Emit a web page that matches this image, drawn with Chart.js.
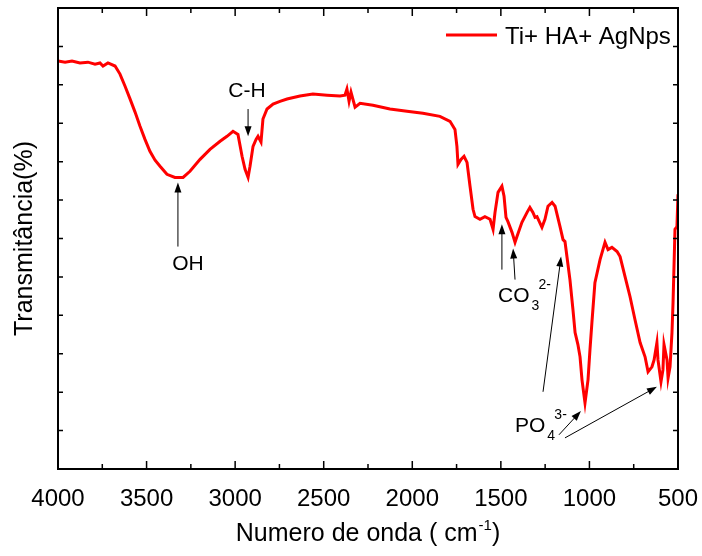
<!DOCTYPE html>
<html>
<head>
<meta charset="utf-8">
<script src="https://cdn.jsdelivr.net/npm/chart.js@4.4.0/dist/chart.umd.min.js"></script>
<style>
    html, body { margin: 0; padding: 0; background: #fff; }
    #wrap { width: 702px; height: 556px; }
</style>
</head>
<body>
<div id="wrap"><canvas id="ftirChart" width="702" height="556"></canvas></div>
<script>
// FTIR spectrum, wavenumber (cm-1) vs transmittance (arbitrary units)
const wavenumbers = [
    4000, 3960, 3921, 3876, 3831, 3791, 3763, 3746, 3718, 3678,
    3650, 3622, 3594, 3565, 3537, 3509, 3481, 3452, 3424, 3385,
    3340, 3294, 3255, 3198, 3142, 3085, 3046, 3012, 2984, 2961,
    2944, 2927, 2916, 2899, 2882, 2871, 2854, 2843, 2820, 2786,
    2747, 2707, 2634, 2561, 2481, 2408, 2380, 2369, 2357, 2346,
    2323, 2295, 2222, 2126, 2030, 1940, 1844, 1787, 1759, 1748,
    1742, 1725, 1708, 1691, 1674, 1657, 1646, 1618, 1590, 1561,
    1544, 1533, 1516, 1494, 1482, 1471, 1460, 1437, 1420, 1409,
    1381, 1352, 1336, 1319, 1307, 1296, 1268, 1251, 1234, 1211,
    1194, 1166, 1149, 1138, 1127, 1110, 1093, 1081, 1065, 1053,
    1042, 1025, 1008, 997, 986, 969, 940, 912, 895, 873,
    844, 827, 799, 771, 743, 714, 686, 669, 647, 635,
    619, 613, 596, 585, 579, 562, 556, 545, 534, 528,
    517, 506, 500
];
const transmittance = [
    10.62, 10.59, 10.62, 10.57, 10.59, 10.54, 10.57, 10.49, 10.57, 10.49,
    10.28, 9.97, 9.64, 9.29, 8.92, 8.58, 8.27, 8.04, 7.88, 7.67,
    7.59, 7.59, 7.75, 8.06, 8.32, 8.53, 8.66, 8.79, 8.71, 8.14,
    7.80, 7.59, 7.88, 8.40, 8.58, 8.66, 8.51, 9.11, 9.37, 9.50,
    9.57, 9.63, 9.71, 9.76, 9.73, 9.71, 9.73, 9.89, 9.57, 9.81,
    9.42, 9.52, 9.47, 9.37, 9.31, 9.26, 9.18, 9.05, 8.84, 8.40,
    7.93, 8.06, 8.14, 7.98, 7.36, 6.76, 6.57, 6.50, 6.57, 6.50,
    6.24, 6.68, 7.20, 7.36, 7.10, 6.55, 6.44, 6.16, 5.90, 6.05,
    6.42, 6.68, 6.81, 6.68, 6.55, 6.57, 6.29, 6.50, 6.84, 6.94,
    6.84, 6.31, 5.97, 5.92, 5.53, 4.93, 4.15, 3.55, 3.24, 2.92,
    2.32, 1.72, 2.32, 3.10, 3.81, 4.85, 5.45, 5.90, 5.71, 5.77,
    5.66, 5.53, 5.01, 4.49, 3.89, 3.29, 2.92, 2.53, 2.66, 2.84,
    3.29, 2.84, 2.27, 2.58, 3.24, 2.84, 2.37, 2.66, 3.55, 4.33,
    6.24, 6.31, 7.15
];
const xTickValues = [4000, 3500, 3000, 2500, 2000, 1500, 1000, 500];
const seriesLabel = "Ti+ HA+ AgNps";
const xTitle = "Numero de onda ( cm";
const xTitleSup = "-1";
const yTitle = "Transmitância(%)";

const FONT = "'Liberation Sans', Arial, sans-serif";

// band labels with arrows, in data coordinates [wavenumber, transmittance]
const bands = [
    { text: "C-H", align: "center", at: [2933, 9.68], arrows: [[2927, 9.37, 2927, 8.66]] },
    { text: "OH", align: "center", at: [3266, 5.19], arrows: [[3323, 5.79, 3323, 7.46]] },
    { text: "CO", sub: "3", sup: "2-", align: "left", at: [1516, 4.36],
      arrows: [[1494, 5.19, 1494, 6.37], [1420, 4.93, 1431, 5.74]] },
    { text: "PO", sub: "4", sup: "3-", align: "left", at: [1420, 0.97],
      arrows: [[1262, 2.01, 1160, 5.53], [1172, 0.89, 1048, 1.51], [1138, 0.81, 619, 2.14]] }
];

function drawArrow(ctx, x1, y1, x2, y2) {
    const ang = Math.atan2(y2 - y1, x2 - x1);
    const len = 10, half = 3.5;
    ctx.beginPath();
    ctx.moveTo(x1, y1);
    ctx.lineTo(x2 - Math.cos(ang) * len * 0.8, y2 - Math.sin(ang) * len * 0.8);
    ctx.stroke();
    ctx.beginPath();
    ctx.moveTo(x2, y2);
    ctx.lineTo(x2 - Math.cos(ang) * len - Math.sin(ang) * half, y2 - Math.sin(ang) * len + Math.cos(ang) * half);
    ctx.lineTo(x2 - Math.cos(ang) * len + Math.sin(ang) * half, y2 - Math.sin(ang) * len - Math.cos(ang) * half);
    ctx.closePath();
    ctx.fill();
}

const decorPlugin = {
    id: "decor",
    afterDraw(chart) {
        const ctx = chart.ctx;
        const xs = chart.scales.x, ys = chart.scales.y;
        const a = chart.chartArea;
        ctx.save();
        ctx.strokeStyle = "#000";
        ctx.fillStyle = "#000";

        // frame
        ctx.lineWidth = 2;
        ctx.strokeRect(a.left, a.top, a.right - a.left, a.bottom - a.top);

        // inward ticks on all four sides
        ctx.lineWidth = 1.5;
        ctx.beginPath();
        for (let w = 500; w <= 4000; w += 250) {
            const px = xs.getPixelForValue(w);
            const len = (w % 500 === 0) ? 8 : 5;
            ctx.moveTo(px, a.bottom); ctx.lineTo(px, a.bottom - len);
            ctx.moveTo(px, a.top); ctx.lineTo(px, a.top + len);
        }
        for (let v = 1; v < 12; v++) {
            const py = ys.getPixelForValue(v);
            ctx.moveTo(a.left, py); ctx.lineTo(a.left + 5, py);
            ctx.moveTo(a.right, py); ctx.lineTo(a.right - 5, py);
        }
        ctx.stroke();

        // band annotations
        ctx.lineWidth = 1;
        bands.forEach(b => {
            b.arrows.forEach(ar => {
                drawArrow(ctx, xs.getPixelForValue(ar[0]), ys.getPixelForValue(ar[1]),
                               xs.getPixelForValue(ar[2]), ys.getPixelForValue(ar[3]));
            });
            const tx = xs.getPixelForValue(b.at[0]);
            const ty = ys.getPixelForValue(b.at[1]);
            ctx.font = "21px " + FONT;
            ctx.textBaseline = "alphabetic";
            ctx.textAlign = b.align;
            ctx.fillText(b.text, tx, ty);
            if (b.sub) {
                const w = ctx.measureText(b.text).width;
                ctx.font = "14px " + FONT;
                ctx.textAlign = "left";
                ctx.fillText(b.sub, tx + w + 2, ty + 8);
                ctx.fillText(b.sup, tx + w + 9, ty - 13);
            }
        });

        // legend
        const ds = chart.data.datasets[0];
        ctx.strokeStyle = ds.borderColor;
        ctx.lineWidth = ds.borderWidth;
        ctx.beginPath();
        ctx.moveTo(446, 35); ctx.lineTo(497, 35);
        ctx.stroke();
        ctx.font = "24px " + FONT;
        ctx.textAlign = "left";
        ctx.textBaseline = "alphabetic";
        ctx.fillText(ds.label, 505, 44);

        // x axis title with superscript
        ctx.font = "25px " + FONT;
        const w1 = ctx.measureText(xTitle).width;
        const w3 = ctx.measureText(")").width;
        ctx.font = "15px " + FONT;
        const w2 = ctx.measureText(xTitleSup).width;
        const total = w1 + w2 + w3 + 1;
        let x0 = (a.left + a.right) / 2 - total / 2;
        ctx.font = "25px " + FONT;
        ctx.fillText(xTitle, x0, 541);
        ctx.font = "15px " + FONT;
        ctx.fillText(xTitleSup, x0 + w1 + 1, 530);
        ctx.font = "25px " + FONT;
        ctx.fillText(")", x0 + w1 + w2 + 1, 541);

        ctx.restore();
    }
};

new Chart(document.getElementById("ftirChart").getContext("2d"), {
    type: "line",
    data: {
        datasets: [{
            label: seriesLabel,
            data: wavenumbers.map((w, i) => ({ x: w, y: transmittance[i] })),
            borderColor: "#ff0000",
            borderWidth: 3,
            pointRadius: 0,
            tension: 0,
            fill: false
        }]
    },
    options: {
        responsive: false,
        animation: false,
        events: [],
        layout: { padding: { top: 8, right: 24, left: 0, bottom: 0 } },
        plugins: {
            legend: { display: false },
            tooltip: { enabled: false }
        },
        scales: {
            x: {
                type: "linear",
                reverse: true,
                min: 500,
                max: 4000,
                grid: { display: false, drawTicks: false },
                border: { display: false },
                afterBuildTicks: s => { s.ticks = xTickValues.map(v => ({ value: v })); },
                ticks: {
                    color: "#000",
                    font: { family: FONT, size: 24 },
                    padding: 16,
                    maxRotation: 0,
                    autoSkip: false,
                    callback: v => String(v)
                },
                afterFit: s => {
                    s.height = 87;
                    s.paddingLeft = 0;
                    s.paddingRight = 0;
                }
            },
            y: {
                min: 0,
                max: 12,
                grid: { display: false, drawTicks: false },
                border: { display: false },
                ticks: { display: false },
                title: {
                    display: true,
                    text: yTitle,
                    color: "#000",
                    font: { family: FONT, size: 25 },
                    padding: { top: 10, bottom: 0 }
                },
                afterFit: s => { s.width = 58; }
            }
        }
    },
    plugins: [decorPlugin]
});
</script>
</body>
</html>
